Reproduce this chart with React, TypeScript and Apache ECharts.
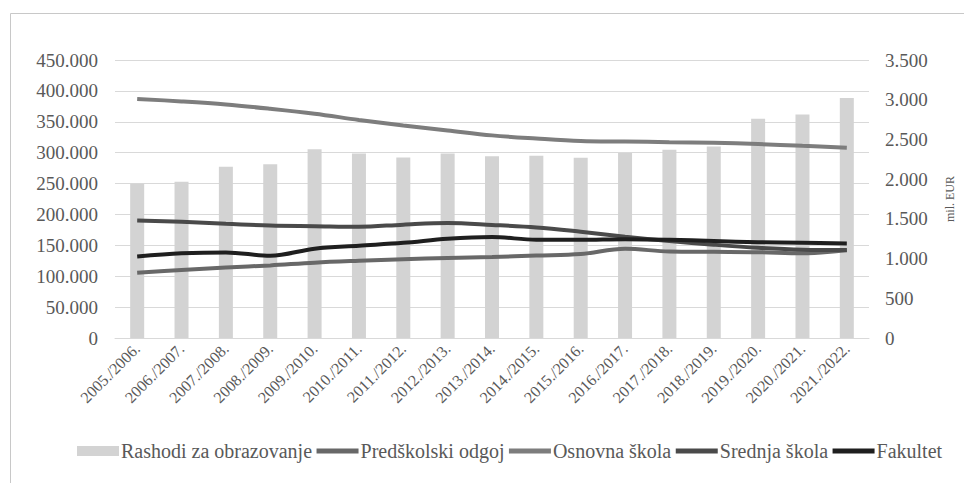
import React, { useEffect, useRef } from "react";
import * as echarts from "echarts";

// School years on the category axis
const categories = [
  "2005./2006.", "2006./2007.", "2007./2008.", "2008./2009.", "2009./2010.",
  "2010./2011.", "2011./2012.", "2012./2013.", "2013./2014.", "2014./2015.",
  "2015./2016.", "2016./2017.", "2017./2018.", "2018./2019.", "2019./2020.",
  "2020./2021.", "2021./2022.",
];

// Education expenditure, mil. EUR (right axis)
const rashodi = [1943, 1968, 2157, 2186, 2375, 2324, 2274, 2324, 2287, 2295, 2270, 2329, 2371, 2412, 2761, 2815, 3022];

// Enrolment by level (left axis)
const predskolski = [105700, 110000, 114000, 117500, 122000, 125000, 127500, 129500, 131000, 133500, 136000, 144500, 140000, 139500, 139000, 137000, 142000];
const osnovna = [387000, 383000, 378000, 371000, 363000, 353000, 344000, 336000, 328000, 323000, 319000, 318000, 317000, 316000, 314000, 311000, 308000];
const srednja = [190000, 188000, 185000, 182000, 181000, 180000, 183500, 186000, 183000, 179000, 172000, 164000, 157000, 151000, 146000, 143000, 142500];
const fakultet = [132000, 137000, 138600, 133000, 144600, 149400, 154000, 160700, 163500, 159000, 159000, 160000, 159000, 157000, 155000, 154000, 153000];

const leftTicks = { min: 0, max: 450000, interval: 50000 };
const rightTicks = { min: 0, max: 3500, interval: 500 };

const FONT = "'Liberation Serif', 'Times New Roman', serif";
const TEXT = "#595959";

const fmt = (v: number) => {
  const s = Math.round(v).toString();
  return s.replace(/\B(?=(\d{3})+(?!\d))/g, ".");
};

export default function App() {
  const ref = useRef<HTMLDivElement>(null);

  useEffect(() => {
    if (!ref.current) return;
    const chart = echarts.init(ref.current, undefined, { renderer: "svg" });

    const lineSeries = (name: string, data: number[], color: string) => ({
      name,
      type: "line",
      data,
      yAxisIndex: 0,
      smooth: 0.35,
      symbol: "none",
      showSymbol: false,
      lineStyle: { color, width: 4 },
      itemStyle: { color },
      z: 3,
    });

    const lineLegend = (name: string) => ({
      name,
      itemStyle: { opacity: 0 },
      lineStyle: { width: 5 },
    });

    chart.setOption({
      animation: false,
      backgroundColor: "#ffffff",
      textStyle: { fontFamily: FONT },
      graphic: [
        {
          type: "rect",
          shape: { x: 10.5, y: 13.5, width: 1000, height: 500 },
          style: { fill: "none", stroke: "#c8c8c8", lineWidth: 1 },
          silent: true,
        },
      ],
      grid: { left: 115, right: 83, top: 60, bottom: 145 },
      legend: {
        left: 77,
        top: 441,
        padding: 0,
        itemWidth: 42,
        itemHeight: 10,
        itemGap: 2,
        textStyle: { fontFamily: FONT, fontSize: 20, color: TEXT, padding: [0, 0, 0, -3] },
        data: [
          { name: "Rashodi za obrazovanje", icon: "rect" },
          lineLegend("Predškolski odgoj"),
          lineLegend("Osnovna škola"),
          lineLegend("Srednja škola"),
          lineLegend("Fakultet"),
        ],
      },
      xAxis: {
        type: "category",
        data: categories,
        axisLine: { lineStyle: { color: "#d9d9d9" } },
        axisTick: { show: false },
        axisLabel: {
          interval: 0,
          rotate: 45,
          margin: 8,
          fontFamily: FONT,
          fontSize: 16,
          color: TEXT,
        },
      },
      yAxis: [
        {
          type: "value",
          ...leftTicks,
          axisLine: { show: false },
          axisTick: { show: false },
          splitLine: { lineStyle: { color: "#d9d9d9", width: 1 } },
          axisLabel: {
            margin: 17,
            fontFamily: FONT,
            fontSize: 19,
            color: TEXT,
            formatter: (v: number) => fmt(v),
          },
        },
        {
          type: "value",
          position: "right",
          ...rightTicks,
          name: "mil. EUR",
          nameLocation: "middle",
          nameRotate: 90,
          nameGap: 75,
          nameTextStyle: { fontFamily: FONT, fontSize: 12, color: TEXT },
          axisLine: { show: false },
          axisTick: { show: false },
          splitLine: { show: false },
          axisLabel: {
            margin: 16,
            fontFamily: FONT,
            fontSize: 19,
            color: TEXT,
            formatter: (v: number) => fmt(v),
          },
        },
      ],
      series: [
        {
          name: "Rashodi za obrazovanje",
          type: "bar",
          data: rashodi,
          yAxisIndex: 1,
          barWidth: 14,
          itemStyle: { color: "#d3d3d3" },
          z: 1,
        },
        lineSeries("Predškolski odgoj", predskolski, "#686868"),
        lineSeries("Osnovna škola", osnovna, "#7d7d7d"),
        lineSeries("Srednja škola", srednja, "#4a4a4a"),
        lineSeries("Fakultet", fakultet, "#1f1f1f"),
      ],
    });

    return () => chart.dispose();
  }, []);

  return (
    <div
      ref={ref}
      style={{ position: "fixed", left: 0, top: 0, width: 964, height: 483, background: "#fff" }}
    />
  );
}
